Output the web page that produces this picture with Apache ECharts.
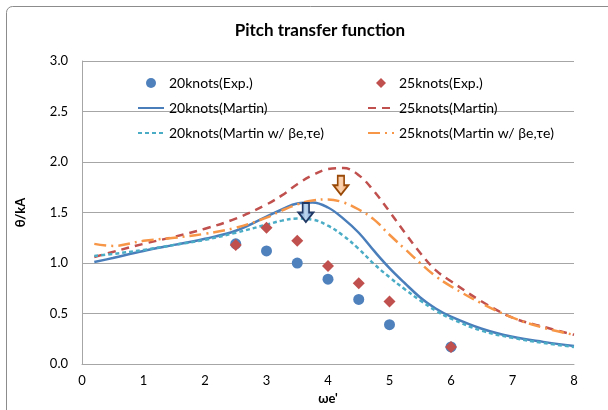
<!DOCTYPE html>
<html>
<head>
<meta charset="utf-8">
<script src="https://cdn.jsdelivr.net/npm/echarts@6/dist/echarts.min.js"></script>
<style>
html,body{margin:0;padding:0;background:#fff;}
#chart{width:608px;height:410px;}
</style>
</head>
<body>
<div id="chart"></div>
<script>
// ---- data ----
var titleText = 'Pitch transfer function';
var xTicks = [0, 1, 2, 3, 4, 5, 6, 7, 8];
var yTicks = [0.0, 0.5, 1.0, 1.5, 2.0, 2.5, 3.0];

var expX = [2.5, 3, 3.5, 4, 4.5, 5, 6];
var exp20 = [1.19, 1.12, 1.00, 0.84, 0.64, 0.39, 0.17];
var exp25 = [1.18, 1.35, 1.22, 0.97, 0.80, 0.62, 0.17];

var curveX = [0.2, 0.5, 1, 1.5, 2, 2.5, 3, 3.25, 3.5, 3.75, 4, 4.25, 4.5, 4.75, 5, 5.25, 5.5, 5.75, 6, 6.5, 7, 7.5, 8];
var martin20 = [1.01, 1.05, 1.12, 1.18, 1.24, 1.32, 1.46, 1.53, 1.59, 1.60, 1.55, 1.44, 1.30, 1.12, 0.95, 0.80, 0.66, 0.55, 0.47, 0.35, 0.27, 0.22, 0.18];
var martinW20 = [1.07, 1.09, 1.13, 1.18, 1.23, 1.30, 1.38, 1.42, 1.44, 1.43, 1.37, 1.27, 1.14, 0.99, 0.86, 0.74, 0.63, 0.53, 0.45, 0.33, 0.26, 0.21, 0.17];
var martin25 = [1.06, 1.11, 1.19, 1.26, 1.34, 1.44, 1.58, 1.67, 1.78, 1.87, 1.93, 1.94, 1.87, 1.71, 1.51, 1.30, 1.10, 0.93, 0.82, 0.62, 0.46, 0.37, 0.29];
var martinW25 = [1.19, 1.17, 1.22, 1.25, 1.29, 1.35, 1.45, 1.52, 1.58, 1.62, 1.63, 1.60, 1.53, 1.43, 1.28, 1.14, 1.00, 0.87, 0.77, 0.60, 0.46, 0.36, 0.29];

var arrow20 = [3.64, 1.50];
var arrow25 = [4.21, 1.77];

var names = ['20knots(Exp.)', '25knots(Exp.)', '20knots(Martin)', '25knots(Martin)',
             '20knots(Martin w/ βe,τe)', '25knots(Martin w/ βe,τe)'];

function pairs(xs, ys) { return xs.map(function (x, i) { return [x, ys[i]]; }); }

var FONT = 'Lato';
var arrowPath = 'path://M4,0 L10,0 L10,9 L14,9 L7,18 L0,9 L4,9 Z';
var diamondIcon = 'path://M5,0 L10,5 L5,10 L0,5 Z';
var hideSym = {opacity: 0};

function legendCfg(left, data) {
  return {orient: 'vertical', left: left, top: 71, itemWidth: 26, itemHeight: 10, itemGap: 11,
    data: data, textStyle: {fontSize: 14, lineHeight: 14, color: '#000', fontFamily: FONT}};
}

var chart = echarts.init(document.getElementById('chart'), null, {renderer: 'canvas'});
chart.setOption({
  animation: false,
  backgroundColor: '#fff',
  textStyle: {fontFamily: FONT},
  graphic: [
    {type: 'rect', shape: {x: 6.5, y: 6.5, width: 700, height: 500, r: 6},
     style: {fill: 'none', stroke: '#8c8c8c', lineWidth: 1}, silent: true, z: -1},
    {type: 'text', style: {x: 320, y: 22, text: titleText, textAlign: 'center',
      font: 'bold 17px ' + FONT, fill: '#000'}}
  ],
  grid: {left: 82, right: 34, top: 61, bottom: 41},
  legend: [
    legendCfg(132, [{name: names[0], icon: 'circle'},
                    {name: names[2], itemStyle: hideSym},
                    {name: names[4], itemStyle: hideSym}]),
    legendCfg(362, [{name: names[1], icon: diamondIcon},
                    {name: names[3], itemStyle: hideSym},
                    {name: names[5], itemStyle: hideSym}])
  ],
  xAxis: {
    type: 'value', min: 0, max: 8, interval: 1,
    name: "ωe'", nameLocation: 'middle', nameGap: 21,
    nameTextStyle: {fontWeight: 'bold', fontSize: 13, color: '#000', fontFamily: FONT},
    axisLine: {lineStyle: {color: '#a6a6a6', width: 1}},
    axisTick: {show: false},
    splitLine: {show: false},
    axisLabel: {color: '#000', fontSize: 13, margin: 10, fontFamily: FONT,
      formatter: function (v) { return xTicks.indexOf(v) >= 0 ? String(v) : ''; }}
  },
  yAxis: {
    type: 'value', min: 0, max: 3, interval: 0.5,
    name: 'θ/kA', nameLocation: 'middle', nameGap: 55, nameRotate: 90,
    nameTextStyle: {fontWeight: 'bold', fontSize: 13, color: '#000', fontFamily: FONT},
    axisLine: {show: true, lineStyle: {color: '#a6a6a6', width: 1}},
    axisTick: {show: false},
    splitLine: {lineStyle: {color: '#a6a6a6', width: 1}},
    axisLabel: {color: '#000', fontSize: 13, margin: 14, fontFamily: FONT,
      formatter: function (v) { return v.toFixed(1); }}
  },
  series: [
    {name: names[0], type: 'scatter', symbol: 'circle', symbolSize: 11, z: 5,
     itemStyle: {color: '#4F81BD', opacity: 1}, data: pairs(expX, exp20)},
    {name: names[1], type: 'scatter', symbol: 'diamond', symbolSize: 12, z: 6,
     itemStyle: {color: '#C0504D', opacity: 1}, data: pairs(expX, exp25)},
    {name: names[2], type: 'line', smooth: 0.4, symbol: 'none', z: 3,
     lineStyle: {color: '#4A7EBB', width: 2.5, type: 'solid'},
     itemStyle: {color: '#4A7EBB'}, data: pairs(curveX, martin20),
     markPoint: {symbol: arrowPath, symbolSize: [15, 19], label: {show: false}, silent: true,
       itemStyle: {color: {type: 'linear', x: 0, y: 0, x2: 1, y2: 0,
         colorStops: [{offset: 0, color: '#5B8BC9'}, {offset: 0.5, color: '#BDD7EE'}, {offset: 1, color: '#5B8BC9'}]},
         borderColor: '#1F3864', borderWidth: 1.8},
       data: [{coord: arrow20}]}},
    {name: names[3], type: 'line', smooth: 0.4, symbol: 'none', z: 3,
     lineStyle: {color: '#C0504D', width: 2.5, type: [8, 6]},
     itemStyle: {color: '#C0504D'}, data: pairs(curveX, martin25),
     markPoint: {symbol: arrowPath, symbolSize: [15, 19], label: {show: false}, silent: true,
       itemStyle: {color: {type: 'linear', x: 0, y: 0, x2: 1, y2: 0,
         colorStops: [{offset: 0, color: '#F4A460'}, {offset: 0.5, color: '#FCD5B4'}, {offset: 1, color: '#F4A460'}]},
         borderColor: '#984807', borderWidth: 1.8},
       data: [{coord: arrow25}]}},
    {name: names[4], type: 'line', smooth: 0.4, symbol: 'none', z: 3,
     lineStyle: {color: '#4BACC6', width: 2.5, type: [4, 3]},
     itemStyle: {color: '#4BACC6'}, data: pairs(curveX, martinW20)},
    {name: names[5], type: 'line', smooth: 0.4, symbol: 'none', z: 3,
     lineStyle: {color: '#F79646', width: 2.5, type: [12, 5, 2, 5]},
     itemStyle: {color: '#F79646'}, data: pairs(curveX, martinW25)}
  ]
});
</script>
</body>
</html>
